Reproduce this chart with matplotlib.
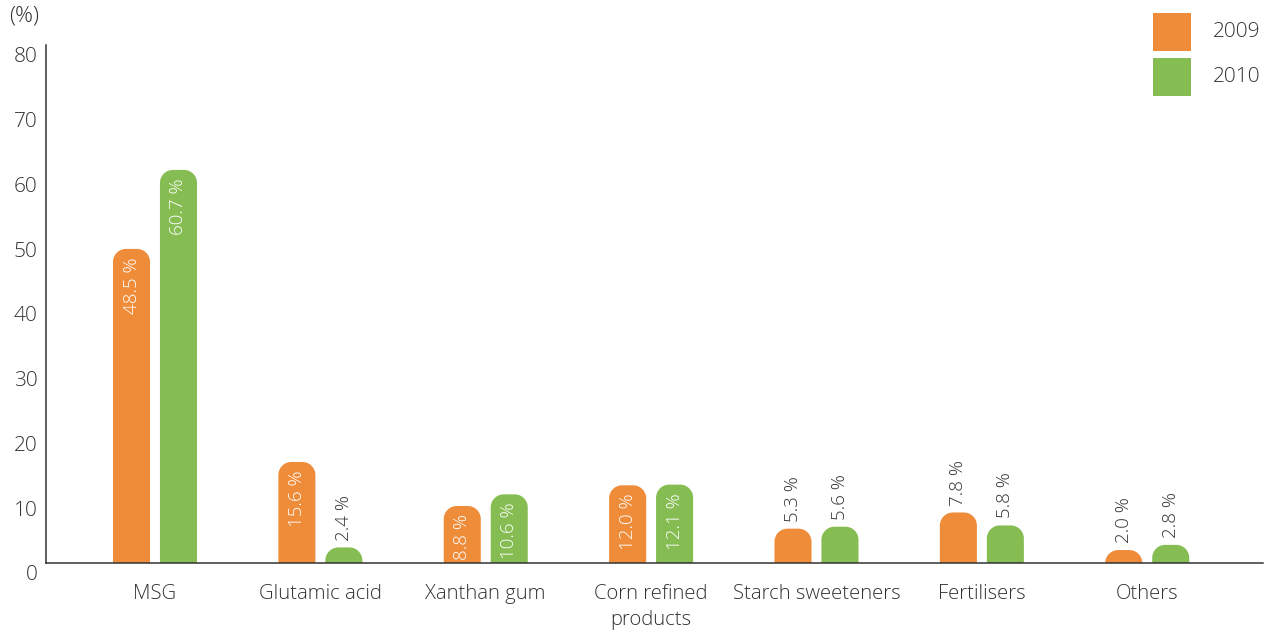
import matplotlib.pyplot as plt
import matplotlib.transforms as mtransforms
from matplotlib.path import Path
from matplotlib.patches import PathPatch, Rectangle
import numpy as np

plt.rcParams['font.family'] = ['Open Sans', 'DejaVu Sans']
plt.rcParams['font.weight'] = 'light'

categories = ['MSG', 'Glutamic acid', 'Xanthan gum', 'Corn refined\nproducts',
              'Starch sweeteners', 'Fertilisers', 'Others']
v2009 = [48.5, 15.6, 8.8, 12.0, 5.3, 7.8, 2.0]
v2010 = [60.7, 2.4, 10.6, 12.1, 5.6, 5.8, 2.8]
years = ['2009', '2010']

orange = '#ef8c3a'
green = '#86bd53'
dark = '#333333'

fig = plt.figure(figsize=(12.71, 6.33), dpi=100)
ax = fig.add_axes([0.0362, 0.1106, 0.9575, 0.8184])
ax.set_xlim(-0.659, 6.70)
ax.set_ylim(0, 80)

width = 0.224
offset = 0.142
# corner radius in pixels -> data units
rpx = 13
rx = rpx / 165.3
ry = rpx / 6.475
k = 0.5523


def rounded_bar(x0, w, h, color):
    x1 = x0 + w
    r_y = min(ry, h)
    verts = [(x0, 0), (x0, h - r_y),
             (x0, h - r_y + k * r_y), (x0 + rx - k * rx, h), (x0 + rx, h),
             (x1 - rx, h),
             (x1 - rx + k * rx, h), (x1, h - r_y + k * r_y), (x1, h - r_y),
             (x1, 0), (x0, 0)]
    codes = [Path.MOVETO, Path.LINETO,
             Path.CURVE4, Path.CURVE4, Path.CURVE4,
             Path.LINETO,
             Path.CURVE4, Path.CURVE4, Path.CURVE4,
             Path.LINETO, Path.CLOSEPOLY]
    ax.add_patch(PathPatch(Path(verts, codes), facecolor=color, edgecolor='none'))


x = np.arange(len(categories))
for vals, sign, color in [(v2009, -1, orange), (v2010, 1, green)]:
    for xi, v in zip(x, vals):
        xc = xi + sign * offset
        rounded_bar(xc - width / 2, width, v, color)
        label = f'{v:.1f} %'
        if v > 8:
            ax.annotate(label, (xc, v), xytext=(0, -6), textcoords='offset points',
                        rotation=90, ha='center', va='top', color='white', fontsize=13.5)
        else:
            ax.annotate(label, (xc, v), xytext=(0, 5), textcoords='offset points',
                        rotation=90, ha='center', va='bottom', color=dark, fontsize=13.5)

ax.set_xticks(x)
ax.set_xticklabels(categories, linespacing=1.4)
ax.set_yticks(range(0, 81, 10))
ax.tick_params(axis='x', length=0, pad=15, labelsize=14.6, labelcolor=dark)
ax.tick_params(axis='y', length=0, pad=6, labelsize=15, labelcolor=dark)
shift = mtransforms.ScaledTranslation(0, -10 / 100, fig.dpi_scale_trans)
for lbl in ax.get_yticklabels():
    lbl.set_transform(lbl.get_transform() + shift)

for s in ['top', 'right']:
    ax.spines[s].set_visible(False)
for s in ['left', 'bottom']:
    ax.spines[s].set_color(dark)
    ax.spines[s].set_linewidth(1.1)

fig.text(9 / 1271, 1 - 16 / 633, '(%)', fontsize=16, color=dark, va='center', ha='left')

# legend
W, H = 1271, 633
for i, (yr, col) in enumerate(zip(years, [orange, green])):
    top = 13 + i * 45
    fig.add_artist(Rectangle((1153 / W, 1 - (top + 38) / H), 38 / W, 38 / H,
                             transform=fig.transFigure, facecolor=col, edgecolor='none'))
    fig.text(1213 / W, 1 - (top + 19) / H, yr, fontsize=15, color=dark,
             va='center', ha='left')

fig.savefig('out.png', dpi=100)
